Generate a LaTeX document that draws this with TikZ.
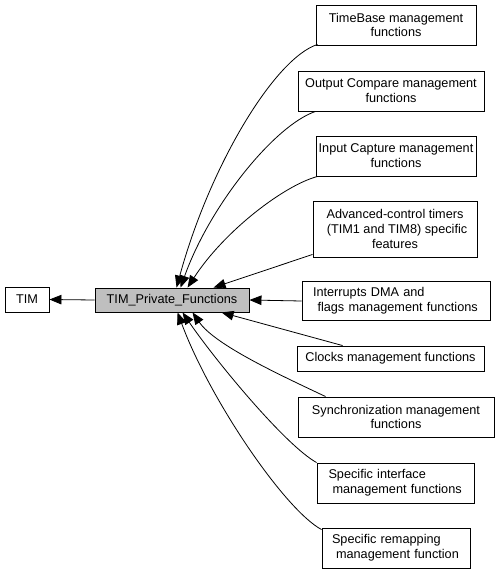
\documentclass[tikz,border=0pt]{standalone}
\usepackage{fontspec}
\setmainfont{Liberation Sans}
\usetikzlibrary{arrows.meta,calc}
\begin{document}
\begin{tikzpicture}[x=1pt,y=-1pt,
  box/.style={draw=black,line width=0.9pt,fill=white,inner sep=0pt,
    font=\fontsize{12.7}{14.8}\selectfont,align=center},
  lbox/.style={box,align=left},
  arr/.style={draw=black,line width=0.8pt,-{Triangle[length=12pt,width=9.5pt]}}]
\useasboundingbox (0,0) rectangle (500,575);
\fill[white] (0,0) rectangle (500,575);
% nodes
\node[box,minimum width=44,minimum height=25] (tim) at (27,299.5) {TIM};
\node[box,fill={rgb,255:red,191;green,191;blue,191},minimum width=154,minimum height=24] (priv) at (172,300) {TIM\_Private\_Functions};
\node[box,minimum width=160,minimum height=40] (tb) at (396,25) {TimeBase management\\functions};
\node[box,minimum width=186,minimum height=40] (oc) at (391,91) {Output Compare management\\functions};
\node[box,minimum width=160,minimum height=40] (ic) at (396,156) {Input Capture management\\functions};
\node[box,minimum width=164,minimum height=56] (adv) at (395,229) {Advanced-control timers\hspace{4pt}\\\hspace{4pt}(TIM1 and TIM8) specific\\features};
\node[lbox,minimum width=188,minimum height=39,text width=166] (irq) at (396,301) {Interrupts DMA and\\\hspace{4.5pt}flags management functions};
\node[box,minimum width=187,minimum height=25] (clk) at (390.5,358.5) {Clocks management functions};
\node[box,minimum width=196,minimum height=40] (sync) at (396,417) {Synchronization management\\functions};
\node[lbox,minimum width=157,minimum height=40,text width=134] (sif) at (395.5,483) {Specific interface\\\hspace{4pt}management functions};
\node[lbox,minimum width=148,minimum height=40,text width=128] (srm) at (396,548) {Specific remapping\\\hspace{4pt}management function};
% connectors
\draw[arr] (priv.west) -- (tim.east);
\draw[arr] ($(tb.south west)+(2,-1)$) .. controls (275,58) and (210,165) .. ($(priv.north west)+(82,0)$);
\draw[arr] ($(oc.south west)+(18,0)$) .. controls (275,125) and (210,205) .. ($(priv.north west)+(86,0)$);
\draw[arr] ($(ic.south west)+(2,0)$) .. controls (285,185) and (225,230) .. ($(priv.north west)+(93,0)$);
\draw[arr] ($(adv.south west)+(0,-3)$) -- ($(priv.north west)+(119,0)$);
\draw[arr] (irq.west) -- (priv.east);
\draw[arr] ($(clk.north west)+(46,0)$) -- ($(priv.south west)+(127,0)$);
\draw[arr] ($(sync.north west)+(28,0)$) .. controls (280,375) and (215,345) .. ($(priv.south west)+(98,0)$);
\draw[arr] ($(sif.north west)+(0,0)$) .. controls (285,445) and (215,360) .. ($(priv.south west)+(88,0)$);
\draw[arr] ($(srm.north west)+(0,2)$) .. controls (285,510) and (210,400) .. ($(priv.south west)+(83,0)$);
\end{tikzpicture}
\end{document}
